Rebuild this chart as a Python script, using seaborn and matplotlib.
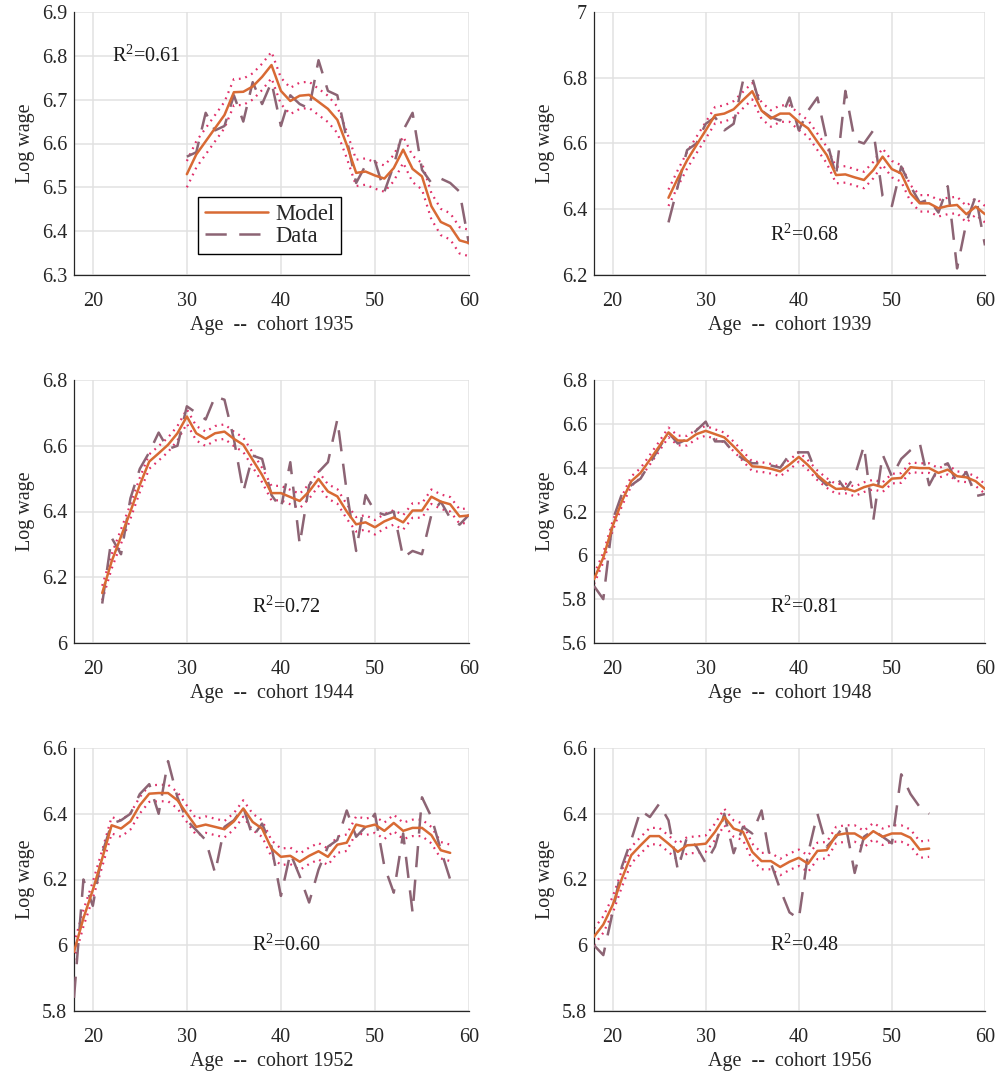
import matplotlib
matplotlib.use("Agg")
import matplotlib.pyplot as plt
from matplotlib.ticker import FuncFormatter
import seaborn as sns
import pandas as pd

# ---------------- data ----------------
cohorts = [1935, 1939, 1944, 1948, 1952, 1956]
r2_labels = ["0.61", "0.68", "0.72", "0.81", "0.60", "0.48"]

age_1935 = list(range(30, 61))
model_1935 = [6.530, 6.575, 6.605, 6.635, 6.665, 6.717, 6.718, 6.730, 6.752, 6.779,
              6.720, 6.697, 6.709, 6.711, 6.695, 6.679, 6.654, 6.597, 6.533, 6.536,
              6.527, 6.520, 6.544, 6.586, 6.542, 6.525, 6.457, 6.421, 6.411, 6.379, 6.373]
data_1935 = [6.57, 6.58, 6.67, 6.63, 6.64, 6.71, 6.65, 6.74, 6.69, 6.74,
             6.64, 6.71, 6.69, 6.68, 6.79, 6.72, 6.71, 6.61, 6.51, 6.55,
             6.56, 6.49, 6.55, 6.63, 6.67, 6.54, 6.51, 6.52, 6.51, 6.49, 6.37]

age_1939 = list(range(26, 61))
model_1939 = [6.435, 6.494, 6.549, 6.595, 6.640, 6.686, 6.691, 6.704, 6.732, 6.759,
              6.700, 6.676, 6.691, 6.691, 6.666, 6.646, 6.605, 6.565, 6.504, 6.506,
              6.497, 6.489, 6.519, 6.560, 6.522, 6.509, 6.448, 6.418, 6.418, 6.403,
              6.410, 6.413, 6.385, 6.408, 6.385]
data_1939 = [6.36, 6.47, 6.58, 6.60, 6.66, 6.68, 6.64, 6.66, 6.79, 6.80,
             6.70, 6.68, 6.67, 6.74, 6.64, 6.70, 6.74, 6.61, 6.50, 6.76,
             6.61, 6.60, 6.64, 6.44, 6.41, 6.53, 6.47, 6.42, 6.43, 6.39,
             6.47, 6.22, 6.36, 6.44, 6.29]

age_1944 = list(range(21, 61))
model_1944 = [6.152, 6.248, 6.324, 6.400, 6.481, 6.552, 6.577, 6.603, 6.638, 6.689,
              6.638, 6.621, 6.638, 6.643, 6.621, 6.603, 6.557, 6.511, 6.456, 6.456,
              6.444, 6.432, 6.461, 6.499, 6.461, 6.446, 6.400, 6.361, 6.367, 6.352,
              6.370, 6.382, 6.367, 6.403, 6.403, 6.445, 6.430, 6.422, 6.385, 6.388]
data_1944 = [6.12, 6.32, 6.27, 6.44, 6.53, 6.58, 6.64, 6.59, 6.60, 6.72,
             6.70, 6.68, 6.75, 6.74, 6.62, 6.46, 6.57, 6.56, 6.45, 6.41,
             6.55, 6.30, 6.48, 6.52, 6.55, 6.68, 6.46, 6.28, 6.45, 6.40,
             6.39, 6.40, 6.26, 6.28, 6.27, 6.39, 6.43, 6.38, 6.36, 6.39]

age_1948 = list(range(18, 61))
model_1948 = [5.891, 5.990, 6.133, 6.247, 6.338, 6.376, 6.436, 6.497, 6.561, 6.524,
              6.523, 6.553, 6.568, 6.553, 6.538, 6.497, 6.452, 6.406, 6.403, 6.395,
              6.383, 6.414, 6.449, 6.411, 6.365, 6.330, 6.303, 6.305, 6.292, 6.311,
              6.323, 6.311, 6.350, 6.353, 6.402, 6.398, 6.398, 6.376, 6.391, 6.361,
              6.356, 6.338, 6.303]
data_1948 = [5.86, 5.80, 6.16, 6.28, 6.32, 6.35, 6.42, 6.49, 6.56, 6.51,
             6.53, 6.57, 6.61, 6.52, 6.52, 6.47, 6.44, 6.42, 6.42, 6.41,
             6.40, 6.46, 6.47, 6.47, 6.36, 6.32, 6.36, 6.30, 6.36, 6.50,
             6.16, 6.46, 6.36, 6.44, 6.48, 6.51, 6.32, 6.40, 6.42, 6.33,
             6.38, 6.27, 6.28]

age_1952 = list(range(18, 59))
model_1952 = [5.980, 6.082, 6.168, 6.264, 6.365, 6.355, 6.377, 6.426, 6.461, 6.463,
              6.463, 6.441, 6.400, 6.360, 6.367, 6.360, 6.353, 6.377, 6.416, 6.375,
              6.355, 6.294, 6.269, 6.272, 6.254, 6.272, 6.286, 6.269, 6.306, 6.312,
              6.367, 6.360, 6.367, 6.348, 6.372, 6.348, 6.357, 6.357, 6.335, 6.289,
              6.281]
data_1952 = [5.84, 6.20, 6.12, 6.28, 6.37, 6.38, 6.40, 6.46, 6.49, 6.40,
             6.56, 6.45, 6.38, 6.35, 6.32, 6.22, 6.36, 6.38, 6.42, 6.33,
             6.37, 6.30, 6.15, 6.28, 6.21, 6.13, 6.23, 6.30, 6.32, 6.41,
             6.33, 6.36, 6.40, 6.24, 6.16, 6.34, 6.10, 6.45, 6.39, 6.29,
             6.20]

age_1956 = list(range(18, 55))
model_1956 = [6.026, 6.063, 6.122, 6.203, 6.274, 6.304, 6.332, 6.332, 6.309, 6.284,
              6.304, 6.306, 6.309, 6.345, 6.390, 6.355, 6.345, 6.284, 6.256, 6.256,
              6.238, 6.254, 6.266, 6.248, 6.287, 6.289, 6.335, 6.340, 6.340, 6.323,
              6.347, 6.330, 6.340, 6.340, 6.327, 6.291, 6.294]
data_1956 = [6.00, 5.97, 6.10, 6.24, 6.32, 6.41, 6.39, 6.43, 6.38, 6.23,
             6.33, 6.30, 6.25, 6.30, 6.40, 6.28, 6.36, 6.34, 6.41, 6.25,
             6.17, 6.10, 6.08, 6.28, 6.40, 6.30, 6.33, 6.37, 6.22, 6.33,
             6.35, 6.33, 6.31, 6.52, 6.46, 6.42, 6.40]

# half-width of the dotted band around the model line, per cohort
band_1935, band_1939, band_1944 = 0.030, 0.025, 0.022
band_1948, band_1952, band_1956 = 0.022, 0.025, 0.025

ages = [age_1935, age_1939, age_1944, age_1948, age_1952, age_1956]
models = [model_1935, model_1939, model_1944, model_1948, model_1952, model_1956]
datas = [data_1935, data_1939, data_1944, data_1948, data_1952, data_1956]
bands = [band_1935, band_1939, band_1944, band_1948, band_1952, band_1956]

y_limits = [(6.3, 6.9), (6.2, 7.0), (6.0, 6.8), (5.6, 6.8), (5.8, 6.6), (5.8, 6.6)]
y_steps = [0.1, 0.2, 0.2, 0.2, 0.2, 0.2]
r2_pos = [(22, 6.80), (36.9, 6.32), (36.9, 6.11), (36.9, 5.764), (36.9, 6.0), (36.9, 6.0)]

# ---------------- style ----------------
sns.set_theme(style="white")
plt.rcParams["font.family"] = ["Liberation Serif", "DejaVu Serif"]
plt.rcParams["mathtext.fontset"] = "custom"
plt.rcParams["mathtext.rm"] = "Liberation Serif"
plt.rcParams["mathtext.it"] = "Liberation Serif:italic"
plt.rcParams["axes.unicode_minus"] = False

MODEL_C = "#D86A34"
DATA_C = "#8C6474"
BAND_C = "#E0306A"
GRID_C = "#E1E1E1"
TXT_C = "#262626"
FS = 14.5

fig = plt.figure(figsize=(10.03, 10.76), dpi=100)
W, H = 1003.0, 1076.0
col_x = [(74, 469), (594, 985)]
row_y = [(12, 275), (380, 643), (748, 1011)]

for i in range(6):
    r, c = divmod(i, 2)
    x0, x1 = col_x[c]
    y0, y1 = row_y[r]
    ax = fig.add_axes([x0 / W, 1 - y1 / H, (x1 - x0) / W, (y1 - y0) / H])

    df = pd.DataFrame({"age": ages[i], "model": models[i], "data": datas[i]})
    df["upper"] = df["model"] + bands[i]
    df["lower"] = df["model"] - bands[i]

    for col in ["upper", "lower"]:
        sns.lineplot(data=df, x="age", y=col, ax=ax, color=BAND_C, linestyle=(0, (0.8, 2.2)),
                     linewidth=1.6, legend=False, zorder=2)
    sns.lineplot(data=df, x="age", y="data", ax=ax, color=DATA_C, linestyle=(0, (8.5, 5)),
                 linewidth=1.8, legend=False, zorder=3)
    sns.lineplot(data=df, x="age", y="model", ax=ax, color=MODEL_C, linewidth=1.8,
                 legend=False, zorder=4)

    lo, hi = y_limits[i]
    ax.set_xlim(18, 60)
    ax.set_ylim(lo, hi)
    ax.set_xticks([20, 30, 40, 50, 60])
    n = int(round((hi - lo) / y_steps[i]))
    ax.set_yticks([lo + k * y_steps[i] for k in range(n + 1)])
    ax.yaxis.set_major_formatter(FuncFormatter(lambda v, p: f"{round(v, 2):g}"))

    ax.grid(True, color=GRID_C, linewidth=1.1)
    ax.set_axisbelow(True)
    for s in ["top", "right"]:
        ax.spines[s].set_visible(False)
    for s in ["left", "bottom"]:
        ax.spines[s].set_color(TXT_C)
        ax.spines[s].set_linewidth(0.9)
    ax.tick_params(direction="in", length=4, width=0.9, colors=TXT_C,
                   labelsize=FS, labelcolor=TXT_C)
    ax.tick_params(axis="x", pad=12)
    ax.tick_params(axis="y", pad=5)

    ax.set_xlabel(f"Age  --  cohort {cohorts[i]}", fontsize=FS, color=TXT_C, labelpad=4)
    ax.set_ylabel("Log wage", fontsize=FS, color=TXT_C, labelpad=5)

    tx, ty = r2_pos[i]
    ax.text(tx, ty, r"R$^{2}$=" + r2_labels[i], fontsize=FS, color="#1a1a1a",
            ha="left", va="center")

    if i == 0:
        handles = [ax.lines[3], ax.lines[2]]
        leg = ax.legend(handles, ["Model", "Data"], loc="upper left",
                        bbox_to_anchor=(0.314, 0.297), fontsize=16.3, frameon=True,
                        fancybox=False, edgecolor="black", framealpha=1,
                        handlelength=2.8, borderpad=0.3, labelspacing=0.05,
                        handletextpad=0.3, borderaxespad=0)
        leg.get_frame().set_linewidth(1.0)

fig.savefig("out.png", dpi=100)
